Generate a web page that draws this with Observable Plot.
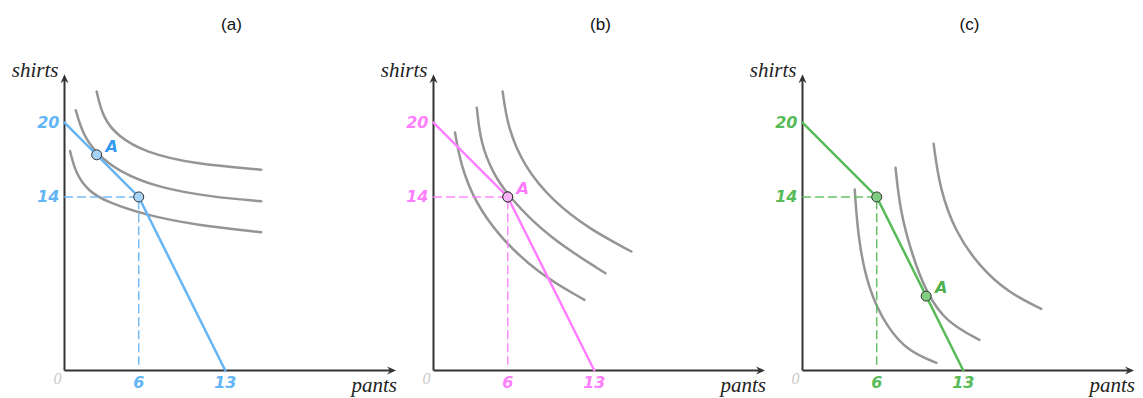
<!DOCTYPE html>
<html>
<head>
<meta charset="utf-8">
<script src="https://cdn.jsdelivr.net/npm/d3@7"></script>
<script src="https://cdn.jsdelivr.net/npm/@observablehq/plot@0.6"></script>
<style>
  html, body { margin: 0; padding: 0; background: #fff; }
  #chart { width: 1143px; height: 398px; }
</style>
</head>
<body>
<div id="chart"></div>
<script>
// ---------- data ----------
const panels = ["(a)", "(b)", "(c)"];
const budgetX = [0, 6, 13];
const budgetY = [20, 14, 0];
const kinkX = 6;
const kinkY = 14;
const pointAX = [2.6, 6, 10];
const pointAY = [17.4, 14, 6];
const yTickValues = [20, 14];
const xTickValues = [6, 13];
const originLabel = "0";
const xLabel = "pants";
const yLabel = "shirts";
const pointLabel = "A";

// indifference curves, per panel, as [x, y] pairs (B-spline control points)
const curvesA = [
  [[0.45, 17.7], [0.9, 15.9], [1.9, 14.5], [3.4, 13.6], [6.5, 12.55], [10.5, 11.75], [15.9, 11.15]],
  [[0.91, 21.0], [1.5, 19.0], [2.6, 17.5], [4.3, 16.1], [7.5, 14.75], [11.9, 14.0], [15.9, 13.65]],
  [[2.6, 22.5], [3.1, 20.4], [4.3, 18.9], [6.5, 17.6], [10.5, 16.65], [15.9, 16.2]]
];
const curvesB = [
  [[1.74, 19.2], [2.2, 16.6], [3.3, 13.7], [5.3, 10.8], [8.5, 7.8], [12.2, 5.7]],
  [[3.5, 21.2], [3.8, 18.4], [4.8, 15.9], [6.1, 14.0], [9.27, 10.75], [13.9, 7.85]],
  [[5.59, 22.5], [6.0, 19.6], [7.3, 16.5], [9.6, 13.7], [12.6, 11.4], [16.0, 9.6]]
];
const curvesC = [
  [[4.22, 14.6], [4.5, 10.6], [5.3, 6.6], [6.8, 3.5], [8.6, 1.5], [10.83, 0.62]],
  [[7.52, 16.35], [7.9, 12.8], [8.9, 9.2], [10.0, 6.3], [11.6, 3.9], [14.3, 2.47]],
  [[10.6, 18.3], [11.1, 14.6], [12.4, 11.1], [14.3, 8.4], [16.6, 6.3], [19.3, 4.97]]
];

// ---------- styles ----------
const lineColor = ["#64b5f6", "#ff80ff", "#57bb57"];
const labelColor = ["#64b5f6", "#ff80ff", "#57bb57"];
const aColor = ["#3398f2", "#ff78ff", "#4cb04c"];
const dotFill = ["#a6d2f7", "#f7b3f7", "#80cc80"];
const curveGray = "#959595";
const axisColor = "#333";
const xMax = 26.8, yMax = 23.9;

// ---------- tables ----------
const budget = panels.flatMap(p => budgetX.map((x, j) => ({panel: p, x, y: budgetY[j]})));
const curveSets = [curvesA, curvesB, curvesC];
const curves = panels.flatMap((p, i) =>
  curveSets[i].flatMap((c, k) => c.map(([x, y]) => ({panel: p, id: p + k, x, y}))));
const dashes = panels.flatMap(p => [
  {panel: p, x: 0, y: kinkY}, {panel: p, x: kinkX, y: kinkY}, {panel: p, x: kinkX, y: 0.5}
]);
const dots = panels.flatMap((p, i) => [
  {panel: p, i, x: kinkX, y: kinkY},
  {panel: p, i, x: pointAX[i], y: pointAY[i]}
]);

// stealth-style arrowhead symbol, tip at (0,0) pointing right
const arrowHead = {
  draw(ctx, size) {
    ctx.moveTo(0, 0);
    ctx.lineTo(-9, -4);
    ctx.lineTo(-6, 0);
    ctx.lineTo(-9, 4);
    ctx.closePath();
  }
};

const serifItalic = {fontFamily: "Liberation Serif", fontStyle: "italic"};
const tickFont = {fontFamily: "DejaVu Sans", fontStyle: "italic", fontWeight: "bold", fontSize: 16};

const marks = [];
// axes
marks.push(Plot.link(panels, {fx: d => d, x1: 0, y1: 0, x2: xMax - 0.3, y2: 0, stroke: axisColor, strokeWidth: 2}));
marks.push(Plot.link(panels, {fx: d => d, x1: 0, y1: 0, x2: 0, y2: yMax - 0.3, stroke: axisColor, strokeWidth: 2}));
marks.push(Plot.dot(panels, {fx: d => d, x: xMax, y: 0, symbol: arrowHead, r: 4, fill: axisColor, stroke: "none", rotate: 0}));
marks.push(Plot.dot(panels, {fx: d => d, x: 0, y: yMax, symbol: arrowHead, r: 4, fill: axisColor, stroke: "none", rotate: -90}));

// indifference curves
marks.push(Plot.line(curves, {x: "x", y: "y", z: "id", fx: "panel", stroke: curveGray, strokeWidth: 2.5, curve: "basis"}));

panels.forEach((p, i) => {
  marks.push(Plot.line(dashes.filter(d => d.panel === p), {x: "x", y: "y", fx: "panel", stroke: lineColor[i], strokeWidth: 1.5, strokeDasharray: "8,5", strokeOpacity: 0.9}));
  marks.push(Plot.line(budget.filter(d => d.panel === p), {x: "x", y: "y", fx: "panel", stroke: lineColor[i], strokeWidth: 2.5}));
  marks.push(Plot.dot(dots.filter(d => d.panel === p), {x: "x", y: "y", fx: "panel", r: 5, fill: dotFill[i], stroke: "#333", strokeWidth: 1}));
  marks.push(Plot.text([pointLabel], {fx: () => p, x: pointAX[i], y: pointAY[i], text: d => d, dx: 15, dy: -8, fill: aColor[i], ...tickFont}));
  marks.push(Plot.text(yTickValues, {fx: () => p, x: 0, y: d => d, text: d => String(d), textAnchor: "end", dx: -5, fill: labelColor[i], ...tickFont}));
  marks.push(Plot.text(xTickValues, {fx: () => p, x: d => d, y: 0, text: d => String(d), dy: 12, fill: labelColor[i], ...tickFont}));
});

// origin, axis names, titles
marks.push(Plot.text(panels, {fx: d => d, x: 0, y: 0, text: () => originLabel, textAnchor: "end", dx: -3, dy: 8, fill: "#c8c8c8", fontSize: 16, ...serifItalic}));
marks.push(Plot.text(panels, {fx: d => d, x: 0, y: yMax, text: () => yLabel, textAnchor: "end", dx: -6, dy: -4, fill: "#222", fontSize: 21, ...serifItalic}));
marks.push(Plot.text(panels, {fx: d => d, x: xMax, y: 0, text: () => xLabel, textAnchor: "end", dx: 1, dy: 15, fill: "#222", fontSize: 21, ...serifItalic}));
marks.push(Plot.text(panels, {fx: d => d, text: d => d, frameAnchor: "top", dy: -53, fill: "#111", fontSize: 17, fontFamily: "Liberation Sans"}));

const chart = Plot.plot({
  width: 1143,
  height: 398,
  marginLeft: 63,
  marginRight: 6,
  marginTop: 70,
  marginBottom: 28,
  style: {background: "#fff", overflow: "visible"},
  fx: {domain: panels, paddingInner: 0.094, paddingOuter: 0, axis: null},
  x: {domain: [0, 27], axis: null},
  y: {domain: [0, 24.2], axis: null},
  marks
});
document.getElementById("chart").appendChild(chart);
</script>
</body>
</html>
